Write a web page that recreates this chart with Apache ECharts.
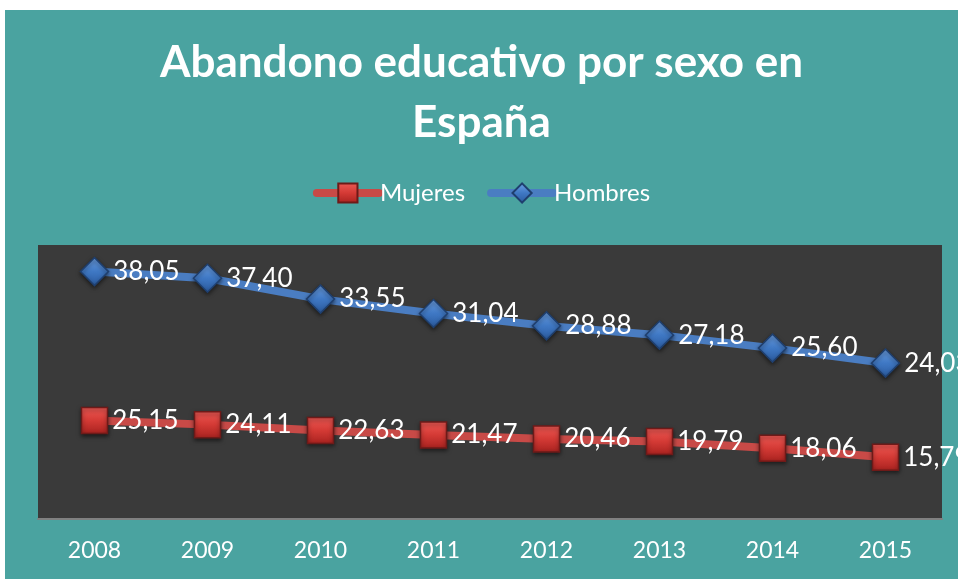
<!DOCTYPE html>
<html>
<head>
<meta charset="utf-8">
<script src="https://cdn.jsdelivr.net/npm/echarts@6/dist/echarts.min.js"></script>
<style>
  html, body { margin: 0; padding: 0; background: #fff; }
  #chart { position: absolute; left: 5px; top: 10px; width: 953px; height: 569px; background: #4aa3a0; }
</style>
</head>
<body>
<div id="chart"></div>
<script>
// datos
var years = ['2008', '2009', '2010', '2011', '2012', '2013', '2014', '2015'];
var mujeres = [25.15, 24.11, 22.63, 21.47, 20.46, 19.79, 18.06, 15.79];
var hombres = [38.05, 37.40, 33.55, 31.04, 28.88, 27.18, 25.60, 24.03];

var font = 'Lato, "Open Sans", sans-serif';

function fmt(p) {
  return p.value.toFixed(2).replace('.', ',');
}

var myChart = echarts.init(document.getElementById('chart'));
myChart.setOption({
  backgroundColor: 'transparent',
  title: {
    text: 'Abandono educativo por sexo en\nEspaña',
    left: 'center',
    top: 18,
    textStyle: {
      color: '#fff',
      fontFamily: font,
      fontWeight: 'bold',
      fontSize: 44,
      lineHeight: 60
    }
  },
  legend: {
    top: 166,
    left: 'center',
    itemWidth: 62,
    itemHeight: 24,
    itemGap: 22,
    data: ['Mujeres', 'Hombres'],
    lineStyle: { width: 8, cap: 'round' },
    textStyle: { color: '#fff', fontFamily: font, fontSize: 24, padding: [0, 0, 0, -4] }
  },
  grid: {
    left: 33,
    top: 235,
    width: 904,
    height: 274,
    show: true,
    backgroundColor: '#3a3a3a',
    borderWidth: 0
  },
  xAxis: {
    type: 'category',
    data: years,
    boundaryGap: true,
    axisLine: { lineStyle: { color: '#808080', width: 2 } },
    axisTick: { show: false },
    axisLabel: { color: '#fff', fontFamily: font, fontSize: 23, margin: 20 }
  },
  yAxis: {
    type: 'value',
    min: 0,
    max: 70,
    show: false,
    splitLine: { show: false }
  },
  series: [
    {
      name: 'Mujeres',
      type: 'line',
      stack: 'total',
      data: mujeres,
      symbol: 'rect',
      symbolSize: 26,
      lineStyle: { color: '#c84a47', width: 8 },
      itemStyle: {
        color: new echarts.graphic.LinearGradient(0, 0, 0, 1, [
          { offset: 0, color: '#ee5a55' },
          { offset: 0.5, color: '#d43a35' },
          { offset: 1, color: '#a8221f' }
        ]),
        borderColor: '#6e1a18',
        borderWidth: 1.5,
        shadowColor: 'rgba(0,0,0,0.5)',
        shadowBlur: 4,
        shadowOffsetY: 2
      },
      label: {
        show: true,
        position: 'right',
        distance: 4,
        formatter: fmt,
        color: '#fff',
        fontFamily: font,
        fontSize: 26
      },
      z: 2
    },
    {
      name: 'Hombres',
      type: 'line',
      stack: 'total',
      data: hombres,
      symbol: 'diamond',
      symbolSize: 28,
      lineStyle: { color: '#4a7dc2', width: 8 },
      itemStyle: {
        color: new echarts.graphic.LinearGradient(0, 0, 0, 1, [
          { offset: 0, color: '#6ea2e6' },
          { offset: 0.5, color: '#3f78c4' },
          { offset: 1, color: '#2a5a9e' }
        ]),
        borderColor: '#1f3f6e',
        borderWidth: 1.5,
        shadowColor: 'rgba(0,0,0,0.5)',
        shadowBlur: 4,
        shadowOffsetY: 2
      },
      label: {
        show: true,
        position: 'right',
        distance: 4,
        formatter: fmt,
        color: '#fff',
        fontFamily: font,
        fontSize: 26
      },
      z: 3
    }
  ]
});
</script>
</body>
</html>
